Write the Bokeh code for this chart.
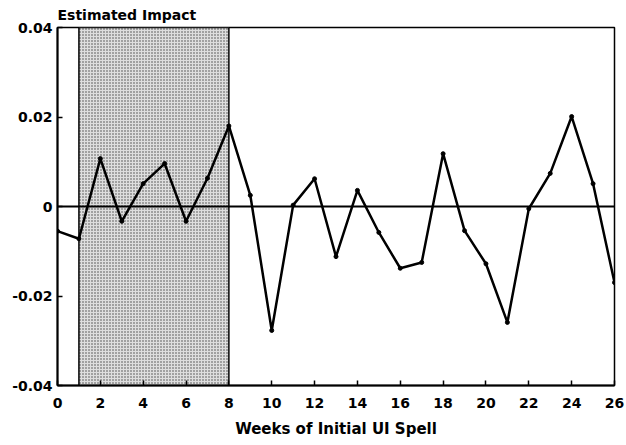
from bokeh.plotting import figure
from bokeh.models import FixedTicker, Span, ColumnDataSource
from bokeh.embed import file_html
from bokeh.resources import INLINE

weeks = list(range(0, 27))
impact = [-0.0055, -0.0072, 0.0107, -0.0033, 0.0051, 0.0096, -0.0033, 0.0063, 0.0180,
          0.0025, -0.0277, 0.0003, 0.0062, -0.0112, 0.0036, -0.0058, -0.0138, -0.0125,
          0.0118, -0.0054, -0.0128, -0.0259, -0.0005, 0.0074, 0.0201, 0.0051, -0.0170]
shade_start = [1]
shade_end = [8]
x_ticks = list(range(0, 27, 2))
y_ticks = [-0.04, -0.02, 0.0, 0.02, 0.04]
y_labels = ["-0.04", "-0.02", "0", "0.02", "0.04"]

FONT = "DejaVu Sans"

p = figure(width=626, height=445, x_range=(0, 26), y_range=(-0.04, 0.04),
           output_backend="svg", toolbar_location=None,
           min_border_left=57, min_border_right=12, min_border_top=27, min_border_bottom=60,
           title="Estimated Impact")
p.title.text_font = FONT
p.title.text_font_style = "bold"
p.title.text_font_size = "14px"
p.title.text_color = "black"
p.title.align = "left"
p.title.offset = 0
p.title.standoff = 9

p.grid.visible = False
p.outline_line_color = "black"
p.outline_line_width = 1.5
p.background_fill_color = "white"
p.border_fill_color = "white"

src = ColumnDataSource(dict(left=shade_start, right=shade_end))
p.quad(left="left", right="right", bottom=-0.04, top=0.04, source=src,
       fill_color="#dedede", hatch_pattern="dot", hatch_color="#444444",
       hatch_scale=3, hatch_weight=1, line_color="black", line_width=1.5)

p.add_layout(Span(location=0, dimension="width", line_color="black", line_width=2))

p.line(weeks, impact, line_color="black", line_width=2.5)
p.scatter(weeks, impact, size=4, color="black")

for ax in (p.xaxis[0], p.yaxis[0]):
    ax.major_tick_in = 5
    ax.major_tick_out = 0
    ax.minor_tick_in = 0
    ax.minor_tick_out = 0
    ax.axis_line_width = 2
    ax.major_tick_line_width = 1.5
    ax.major_label_text_font = FONT
    ax.major_label_text_font_style = "bold"
    ax.major_label_text_font_size = "14px"
    ax.major_label_text_color = "black"

p.xaxis.ticker = FixedTicker(ticks=x_ticks)
p.yaxis.ticker = FixedTicker(ticks=y_ticks)
p.yaxis.major_label_overrides = {t: l for t, l in zip(y_ticks, y_labels)}
p.yaxis.major_label_standoff = 5
p.xaxis.major_label_standoff = 12

p.xaxis.axis_label = "Weeks of Initial UI Spell"
p.xaxis.axis_label_text_font = FONT
p.xaxis.axis_label_text_font_style = "bold"
p.xaxis.axis_label_text_font_size = "15px"
p.xaxis.axis_label_text_color = "black"
p.xaxis.axis_label_standoff = 9

open("out.html", "w").write(file_html(p, INLINE))
